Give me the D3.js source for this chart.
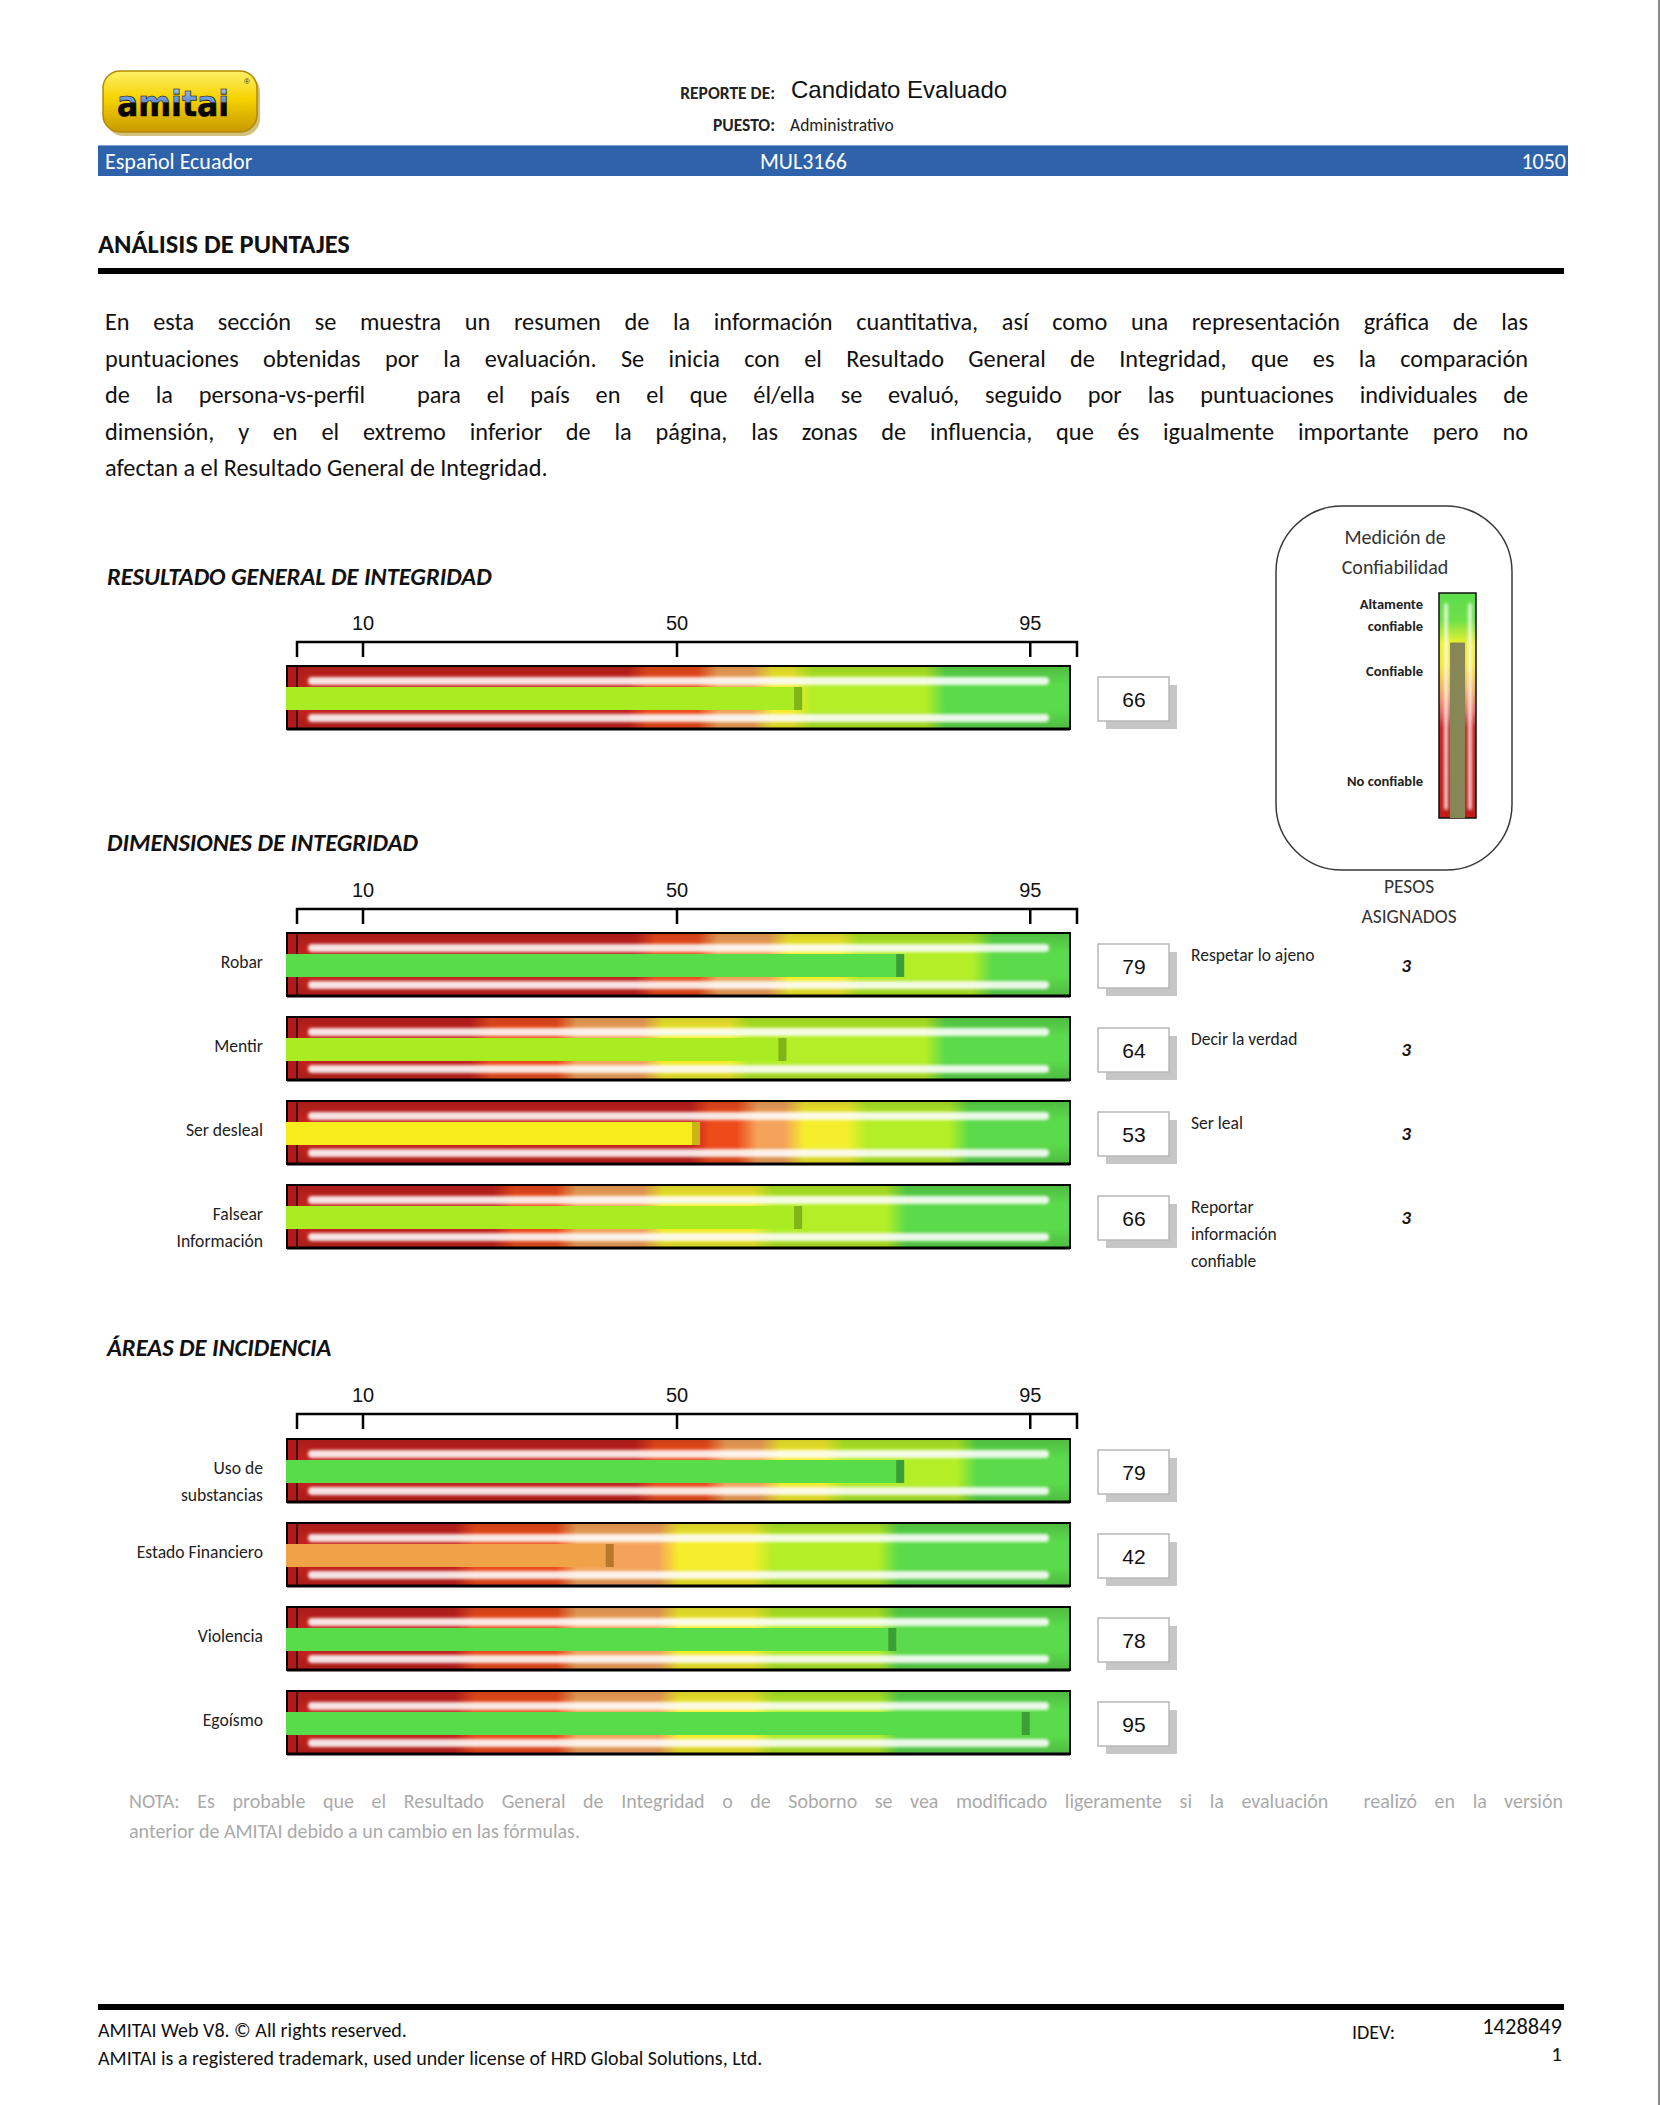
<!DOCTYPE html>
<html><head><meta charset="utf-8">
<script src="https://cdn.jsdelivr.net/npm/d3@7"></script>
<style>
html,body{margin:0;padding:0;background:#fff;}
svg{display:block;}
</style></head>
<body>
<svg id="chart" width="1661" height="2105"></svg>
<script>
// ---------------- DATA ----------------
const axisTicks = [10, 50, 95];

const generalScore = [66];
const generalBands = [[45, 54, 61, 66, 83]];

const dimensionLabels = [["Robar"], ["Mentir"], ["Ser desleal"], ["Falsear", "Información"]];
const dimensionScores = [79, 64, 53, 66];
const dimensionTraits = [["Respetar lo ajeno"], ["Decir la verdad"], ["Ser leal"], ["Reportar", "información", "confiable"]];
const dimensionWeights = [3, 3, 3, 3];
const dimensionBands = [[46, 54, 63, 72, 89], [25, 36, 47, 58, 83], [53, 59, 65, 73, 86], [28, 36, 47, 61, 78]];

const areaLabels = [["Uso de", "substancias"], ["Estado Financiero"], ["Violencia"], ["Egoísmo"]];
const areaScores = [79, 42, 78, 95];
const areaBands = [[46, 55, 62, 70, 87], [23, 36, 49, 61, 77], [23, 36, 49, 61, 77], [23, 36, 49, 61, 77]];

const reliabilityValue = [78];
const reliabilityLabels = [["Altamente", "confiable"], ["Confiable"], ["No confiable"]];
const reliabilityLabelPos = [90, 65, 16];

const paragraphLines = [
  "En esta sección se muestra un resumen de la información cuantitativa, así como una representación gráfica de las",
  "puntuaciones obtenidas por la evaluación. Se inicia con el Resultado General de Integridad, que es la comparación",
  "de la persona-vs-perfil  para el país en el que él/ella se evaluó, seguido por las puntuaciones individuales de",
  "dimensión, y en el extremo inferior de la página, las zonas de influencia, que és igualmente importante pero no",
  "afectan a el Resultado General de Integridad."
];
const notaLines = [
  "NOTA: Es probable que el Resultado General de Integridad o de Soborno se vea modificado ligeramente si la evaluación  realizó en la versión",
  "anterior de AMITAI debido a un cambio en las fórmulas."
];

// ---------------- SETUP ----------------
const svg = d3.select("#chart");
const defs = svg.append("defs");
const FONT = "Carlito, Lato, 'Open Sans', sans-serif";
const ARIAL = "'Liberation Sans', Arial, sans-serif";

const x = d3.scaleLinear().domain([0, 100]).range([284, 1069]);
const gaugeL = x(0) + 3, gaugeR = x(100) + 1, gaugeH = 63;
const barColor = d3.scaleThreshold().domain([45, 55, 70]).range(["#f0a246", "#f7ec1c", "#a9ec22", "#58dc4a"]);
const capColor = d3.scaleThreshold().domain([45, 55, 70]).range(["#b8782c", "#c9b514", "#7fb41a", "#3c9e36"]);
const bandColors = ["#c3211d", "#ee4b1b", "#f5a35a", "#f5ee2c", "#b3ee27", "#5bda4b"];

// page edge line
svg.append("line").attr("x1", 1659).attr("x2", 1659).attr("y1", 0).attr("y2", 2105)
  .attr("stroke", "#8a8a8a").attr("stroke-width", 2);

// filters / gradients
const blur = defs.append("filter").attr("id", "blur").attr("x", "-5%").attr("y", "-150%").attr("width", "110%").attr("height", "400%");
blur.append("feGaussianBlur").attr("stdDeviation", 1.7);
const blur2 = defs.append("filter").attr("id", "blurV").attr("x", "-150%").attr("y", "-5%").attr("width", "400%").attr("height", "110%");
blur2.append("feGaussianBlur").attr("stdDeviation", 1.5);

const shade = defs.append("linearGradient").attr("id", "shade").attr("x1", 0).attr("x2", 0).attr("y1", 0).attr("y2", 1);
shade.selectAll("stop").data([[0, 0.14], [0.3, 0], [0.7, 0], [1, 0.14]]).join("stop")
  .attr("offset", d => d[0]).attr("stop-color", "#000").attr("stop-opacity", d => d[1]);

// ---------------- HEADER ----------------
const logoGrad = defs.append("linearGradient").attr("id", "logoGrad").attr("x1", 0).attr("x2", 0).attr("y1", 0).attr("y2", 1);
logoGrad.selectAll("stop").data([[0, "#fff06a"], [0.45, "#f6d200"], [1, "#c89a00"]]).join("stop")
  .attr("offset", d => d[0]).attr("stop-color", d => d[1]);
const logoText = defs.append("linearGradient").attr("id", "logoText").attr("x1", 0).attr("x2", 0).attr("y1", 0).attr("y2", 1);
logoText.selectAll("stop").data([[0, "#b6d2f6"], [0.47, "#5b8bd8"], [0.48, "#0b0b0b"], [1, "#000"]]).join("stop")
  .attr("offset", d => d[0]).attr("stop-color", d => d[1]);

const logo = svg.append("g");
logo.append("rect").attr("x", 106).attr("y", 75).attr("width", 154).attr("height", 61).attr("rx", 17).attr("fill", "#a88200").attr("opacity", 0.5);
logo.append("rect").attr("x", 103).attr("y", 71).attr("width", 154).attr("height", 61).attr("rx", 17)
  .attr("fill", "url(#logoGrad)").attr("stroke", "#b38a00").attr("stroke-width", 1.5);
logo.append("text").attr("x", 173).attr("y", 116).attr("text-anchor", "middle")
  .attr("font-family", "'DejaVu Sans', sans-serif").attr("font-weight", "bold").attr("font-size", 36)
  .attr("textLength", 112).attr("lengthAdjust", "spacingAndGlyphs")
  .attr("fill", "url(#logoText)").attr("stroke", "#000").attr("stroke-width", 0.6).text("amitai");
logo.append("text").attr("x", 244).attr("y", 84).attr("font-family", ARIAL).attr("font-size", 8).attr("fill", "#333").text("®");

svg.append("text").attr("x", 775).attr("y", 99).attr("text-anchor", "end").attr("font-family", FONT)
  .attr("font-weight", 700).attr("font-size", 17.5).attr("fill", "#222").text("REPORTE DE:");
svg.append("text").attr("x", 791).attr("y", 98).attr("font-family", ARIAL).attr("font-size", 24).attr("fill", "#111").text("Candidato Evaluado");
svg.append("text").attr("x", 775).attr("y", 131).attr("text-anchor", "end").attr("font-family", FONT)
  .attr("font-weight", 700).attr("font-size", 17.5).attr("fill", "#222").text("PUESTO:");
svg.append("text").attr("x", 790).attr("y", 131).attr("font-family", FONT).attr("font-size", 17.5).attr("fill", "#222").text("Administrativo");

svg.append("rect").attr("x", 98).attr("y", 145).attr("width", 1470).attr("height", 31).attr("fill", "#2e63ab");
svg.append("line").attr("x1", 98).attr("x2", 1568).attr("y1", 145.5).attr("y2", 145.5).attr("stroke", "#7fa3d4").attr("stroke-width", 1);
const bandText = [["Español Ecuador", 105, "start"], ["MUL3166", 760, "start"], ["1050", 1566, "end"]];
svg.selectAll("text.band").data(bandText).join("text").attr("class", "band")
  .attr("x", d => d[1]).attr("y", 168.5).attr("text-anchor", d => d[2])
  .attr("font-family", FONT).attr("font-size", 22).attr("fill", "#fff").text(d => d[0]);

// ---------------- TITLE + PARAGRAPH ----------------
svg.append("text").attr("x", 98).attr("y", 253).attr("font-family", FONT).attr("font-weight", 700)
  .attr("font-size", 26.5).attr("fill", "#111").text("ANÁLISIS DE PUNTAJES");
svg.append("rect").attr("x", 98).attr("y", 268).attr("width", 1466).attr("height", 6).attr("fill", "#000");

function textLine(parent, str, x0, x1, y, size, color, justify) {
  const t = parent.append("text").attr("y", y).attr("font-family", FONT).attr("font-size", size).attr("fill", color);
  if (!justify) { t.attr("x", x0).attr("xml:space", "preserve").text(str); return; }
  const words = str.split(" ");
  const spans = words.map(w => t.append("tspan").text(w));
  const widths = spans.map(s => s.node().getComputedTextLength());
  const gap = (x1 - x0 - d3.sum(widths)) / (words.length - 1);
  let cx = x0;
  spans.forEach((s, i) => { s.attr("x", cx); cx += widths[i] + gap; });
}
const para = svg.append("g");
paragraphLines.forEach((l, i) => textLine(para, l, 105, 1528, 330 + i * 36.5, 24.3, "#111", i < paragraphLines.length - 1));

// ---------------- GAUGE HELPERS ----------------
let gid = 0;
function drawAxis(y) {
  const g = svg.append("g").attr("transform", `translate(0,${y})`)
    .call(d3.axisTop(x).tickValues(axisTicks).tickSizeInner(-15).tickSizeOuter(0).tickPadding(12));
  g.select(".domain").remove();
  g.selectAll(".tick line").attr("stroke", "#000").attr("stroke-width", 2.5);
  g.selectAll(".tick text").attr("font-family", ARIAL).attr("font-size", 20).attr("fill", "#111");
  g.append("path").attr("d", `M${gaugeL + 10},15V0H${x(100) + 8}V15`)
    .attr("fill", "none").attr("stroke", "#000").attr("stroke-width", 2.5);
}

function drawGauge(top, score, bands) {
  const id = "gg" + (gid++);
  const grad = defs.append("linearGradient").attr("id", id).attr("gradientUnits", "userSpaceOnUse")
    .attr("x1", x(0)).attr("x2", x(100)).attr("y1", 0).attr("y2", 0);
  const stops = [[0, bandColors[0]]];
  bands.forEach((b, i) => { stops.push([(b - 1.3) / 100, bandColors[i]]); stops.push([(b + 1.3) / 100, bandColors[i + 1]]); });
  stops.push([1, bandColors[5]]);
  grad.selectAll("stop").data(stops).join("stop").attr("offset", s => s[0]).attr("stop-color", s => s[1]);

  const g = svg.append("g");
  g.append("rect").attr("x", gaugeL).attr("y", top).attr("width", gaugeR - gaugeL).attr("height", gaugeH).attr("fill", `url(#${id})`);
  g.append("rect").attr("x", gaugeL).attr("y", top).attr("width", gaugeR - gaugeL).attr("height", gaugeH).attr("fill", "url(#shade)");
  g.append("rect").attr("x", gaugeL).attr("y", top).attr("width", 10).attr("height", gaugeH).attr("fill", "#b3181a");
  g.append("line").attr("x1", gaugeL + 10).attr("x2", gaugeL + 10).attr("y1", top).attr("y2", top + gaugeH).attr("stroke", "#111").attr("stroke-width", 1.5);
  [11, 48].forEach(off => {
    g.append("rect").attr("x", gaugeL + 21).attr("y", top + off).attr("width", gaugeR - gaugeL - 42).attr("height", 8).attr("rx", 4)
      .attr("fill", "#fff").attr("opacity", 0.88).attr("filter", "url(#blur)");
  });
  g.append("rect").attr("x", gaugeL).attr("y", top).attr("width", gaugeR - gaugeL).attr("height", gaugeH)
    .attr("fill", "none").attr("stroke", "#000").attr("stroke-width", 2);
  g.append("line").attr("x1", gaugeL).attr("x2", gaugeR).attr("y1", top + gaugeH).attr("y2", top + gaugeH).attr("stroke", "#000").attr("stroke-width", 3);
  // value bar
  g.append("rect").attr("x", gaugeL - 1).attr("y", top + 21).attr("width", x(score) - gaugeL + 1).attr("height", 23).attr("fill", barColor(score));
  g.append("rect").attr("x", x(score) - 8).attr("y", top + 21).attr("width", 8).attr("height", 23).attr("fill", capColor(score));
  // value box
  const by = top + 11;
  g.append("rect").attr("x", 1106).attr("y", by + 8).attr("width", 71).attr("height", 44).attr("fill", "#c6c6c6");
  g.append("rect").attr("x", 1098).attr("y", by).attr("width", 71).attr("height", 44).attr("fill", "#fff").attr("stroke", "#b8b8b8").attr("stroke-width", 1.5);
  g.append("text").attr("x", 1134).attr("y", by + 30).attr("text-anchor", "middle").attr("font-family", ARIAL)
    .attr("font-size", 21).attr("fill", "#111").text(score);
  return g;
}

function sectionTitle(y, t) {
  svg.append("text").attr("x", 107).attr("y", y).attr("font-family", FONT).attr("font-weight", 700).attr("font-style", "italic")
    .attr("font-size", 24.5).attr("fill", "#111").text(t);
}

function rowLabels(top, lines) {
  svg.append("g").selectAll("text").data(lines).join("text")
    .attr("x", 263).attr("y", (d, i) => top + 34.5 + i * 27).attr("text-anchor", "end")
    .attr("font-family", FONT).attr("font-size", 17.6).attr("fill", "#222").text(d => d);
}

// ---------------- SECTION 1 ----------------
sectionTitle(585, "RESULTADO GENERAL DE INTEGRIDAD");
drawAxis(642);
generalScore.forEach((s, i) => drawGauge(666, s, generalBands[i]));

// ---------------- SECTION 2 ----------------
sectionTitle(851, "DIMENSIONES DE INTEGRIDAD");
drawAxis(909);
const rowY2 = d3.scaleBand().domain(d3.range(dimensionScores.length)).range([933, 933 + 84 * dimensionScores.length]);
dimensionScores.forEach((s, i) => {
  const top = rowY2(i);
  drawGauge(top, s, dimensionBands[i]);
  rowLabels(top, dimensionLabels[i]);
  svg.append("g").selectAll("text").data(dimensionTraits[i]).join("text")
    .attr("x", 1191).attr("y", (d, j) => top + 28 + j * 27)
    .attr("font-family", FONT).attr("font-size", 17.5).attr("fill", "#222").text(d => d);
  svg.append("text").attr("x", 1406).attr("y", top + 39).attr("text-anchor", "middle")
    .attr("font-family", FONT).attr("font-weight", 700).attr("font-style", "italic").attr("font-size", 19).attr("fill", "#111")
    .text(dimensionWeights[i]);
});

// ---------------- SECTION 3 ----------------
sectionTitle(1356, "ÁREAS DE INCIDENCIA");
drawAxis(1414);
const rowY3 = d3.scaleBand().domain(d3.range(areaScores.length)).range([1439, 1439 + 84 * areaScores.length]);
areaScores.forEach((s, i) => {
  const top = rowY3(i);
  drawGauge(top, s, areaBands[i]);
  rowLabels(top, areaLabels[i]);
});

// ---------------- LEGEND ----------------
const yR = d3.scaleLinear().domain([0, 100]).range([818, 593]);
const relGrad = defs.append("linearGradient").attr("id", "relGrad").attr("x1", 0).attr("x2", 0).attr("y1", 0).attr("y2", 1);
relGrad.selectAll("stop").data([[0, "#5cdc4c"], [0.12, "#6ee048"], [0.22, "#e6f030"], [0.32, "#f4e636"], [0.44, "#f2a868"], [0.53, "#e46a62"], [0.6, "#c82828"], [1, "#c01c1c"]])
  .join("stop").attr("offset", d => d[0]).attr("stop-color", d => d[1]);

const lg = svg.append("g");
lg.append("rect").attr("x", 1276).attr("y", 506).attr("width", 236).attr("height", 364).attr("rx", 66)
  .attr("fill", "#fff").attr("stroke", "#3a3a3a").attr("stroke-width", 1.5);
lg.selectAll("text.ttl").data(["Medición de", "Confiabilidad"]).join("text").attr("class", "ttl")
  .attr("x", 1395).attr("y", (d, i) => 544 + i * 30).attr("text-anchor", "middle")
  .attr("font-family", FONT).attr("font-size", 20).attr("fill", "#333").text(d => d);
lg.append("rect").attr("x", 1439).attr("y", yR(100)).attr("width", 37).attr("height", yR(0) - yR(100))
  .attr("fill", "url(#relGrad)").attr("stroke", "#111").attr("stroke-width", 1.5);
[1444, 1468].forEach(xx => lg.append("rect").attr("x", xx).attr("y", yR(100) + 10).attr("width", 4).attr("height", yR(0) - yR(100) - 18)
  .attr("rx", 2).attr("fill", "#fff").attr("opacity", 0.75).attr("filter", "url(#blurV)"));
lg.append("rect").attr("x", 1450).attr("y", yR(reliabilityValue[0])).attr("width", 15).attr("height", yR(0) - yR(reliabilityValue[0]))
  .attr("fill", "#878657");
reliabilityLabels.forEach((lines, i) => {
  lg.append("g").selectAll("text").data(lines).join("text")
    .attr("x", 1423).attr("y", (d, j) => yR(reliabilityLabelPos[i]) + 4 + (j - (lines.length - 1) / 2) * 22)
    .attr("text-anchor", "end").attr("font-family", FONT).attr("font-weight", 700).attr("font-size", 14.5).attr("fill", "#222").text(d => d);
});
lg.selectAll("text.pesos").data(["PESOS", "ASIGNADOS"]).join("text").attr("class", "pesos")
  .attr("x", 1409).attr("y", (d, i) => 893 + i * 30).attr("text-anchor", "middle")
  .attr("font-family", FONT).attr("font-size", 19.5).attr("fill", "#333").text(d => d);

// ---------------- NOTA ----------------
const nota = svg.append("g");
notaLines.forEach((l, i) => textLine(nota, l, 129, 1563, 1808 + i * 29.5, 20, "#aaaaaa", i < notaLines.length - 1));

// ---------------- FOOTER ----------------
svg.append("rect").attr("x", 98).attr("y", 2004).attr("width", 1466).attr("height", 6).attr("fill", "#000");
const foot = [
  ["AMITAI Web V8. © All rights reserved.", 98, 2037, "start", 20],
  ["AMITAI is a registered trademark, used under license of HRD Global Solutions, Ltd.", 98, 2065, "start", 20],
  ["IDEV:", 1352, 2039, "start", 20],
  ["1428849", 1562, 2034, "end", 22.5],
  ["1", 1562, 2061, "end", 21]
];
svg.append("g").selectAll("text").data(foot).join("text")
  .attr("x", d => d[1]).attr("y", d => d[2]).attr("text-anchor", d => d[3])
  .attr("font-family", FONT).attr("font-size", d => d[4]).attr("fill", "#111").text(d => d[0]);
</script>
</body></html>
